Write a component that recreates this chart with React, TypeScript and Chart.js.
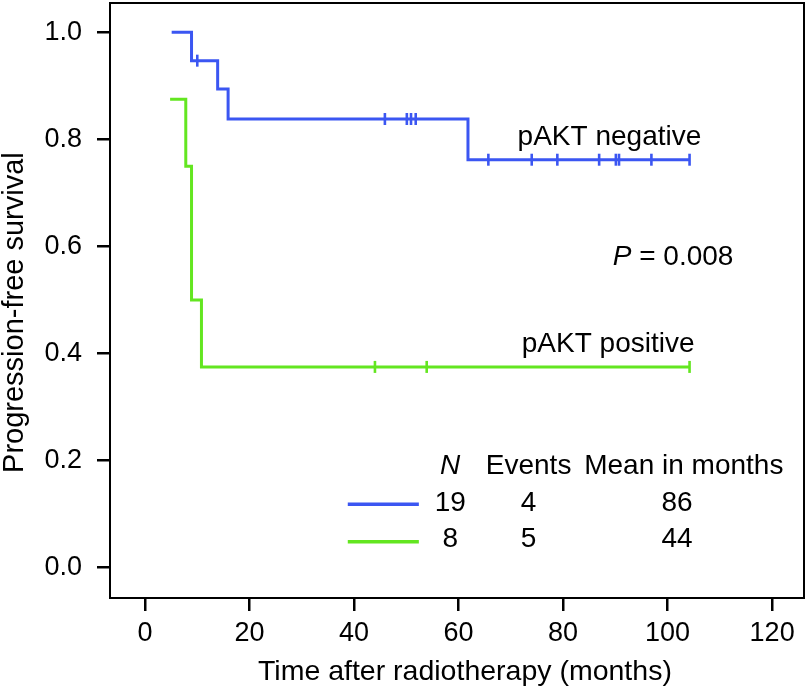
import React, { useEffect, useRef } from 'react';
import { Chart, registerables } from 'chart.js';

Chart.register(...registerables);

// ---- data ----
const negStepTimes = [5.1, 8.9, 13.9, 15.9, 61.8, 104.2];
const negSurvival = [1.0, 0.947, 0.894, 0.838, 0.762, 0.762];
const negCensorTimes = [10.0, 45.9, 50.1, 50.9, 51.8, 65.7, 74.0, 78.9, 86.9, 90.1, 90.7, 96.9, 104.2];

const posStepTimes = [4.8, 7.8, 8.9, 10.8, 104.2];
const posSurvival = [0.875, 0.75, 0.5, 0.375, 0.375];
const posCensorTimes = [44.0, 53.9, 104.2];

const xTickValues = [0, 20, 40, 60, 80, 100, 120];
const yTickValues = [0, 0.2, 0.4, 0.6, 0.8, 1.0];

const groupLabels = ['pAKT negative', 'pAKT positive'];
const tableHeaders = ['N', 'Events', 'Mean in months'];
const tableN = [19, 8];
const tableEvents = [4, 5];
const tableMean = [86, 44];
const pValue = '0.008';

const xTitle = 'Time after radiotherapy (months)';
const yTitle = 'Progression-free survival';

// ---- styles / layout ----
const BLUE = '#3b56f2';
const GREEN = '#63e620';
const FONT = '"Liberation Sans", Arial, Helvetica, sans-serif';
const FRAME = { left: 110, top: 3, right: 804, bottom: 598 };
const TEXT_SIZE = 28;
const TICK_SIZE = 27;

function survivalAt(times: number[], surv: number[], t: number): number {
  let v = surv[0];
  for (let i = 0; i < times.length; i++) {
    if (times[i] <= t) v = surv[i];
  }
  return v;
}

const toPoints = (xs: number[], ys: number[]) => xs.map((x, i) => ({ x, y: ys[i] }));
const censorPoints = (cs: number[], times: number[], surv: number[]) =>
  cs.map((t) => ({ x: t, y: survivalAt(times, surv, t) }));

const frameLayoutPlugin = {
  id: 'fixedFrame',
  afterLayout(chart: any) {
    const a = chart.chartArea;
    a.left = FRAME.left;
    a.top = FRAME.top;
    a.right = FRAME.right;
    a.bottom = FRAME.bottom;
    a.width = a.right - a.left;
    a.height = a.bottom - a.top;
    const x = chart.scales.x;
    const y = chart.scales.y;
    x.left = a.left;
    x.right = a.right;
    x.width = a.width;
    x.top = a.bottom;
    x.bottom = chart.height;
    x.height = x.bottom - x.top;
    y.top = a.top;
    y.bottom = a.bottom;
    y.height = a.height;
    y.left = 0;
    y.right = a.left;
    y.width = a.left;
    x.configure();
    y.configure();
  },
};

const boxPlugin = {
  id: 'frameBox',
  afterDraw(chart: any) {
    const { ctx, chartArea } = chart;
    ctx.save();
    ctx.strokeStyle = '#000';
    ctx.lineWidth = 2;
    ctx.strokeRect(chartArea.left, chartArea.top, chartArea.right - chartArea.left, chartArea.bottom - chartArea.top);
    ctx.restore();
  },
};

const annotationPlugin = {
  id: 'kmAnnotations',
  afterDatasetsDraw(chart: any) {
    const { ctx } = chart;
    const xs = chart.scales.x;
    const ys = chart.scales.y;
    const px = (v: number) => xs.getPixelForValue(v);
    const py = (v: number) => ys.getPixelForValue(v);
    const f = (style: string) => `${style} ${TEXT_SIZE}px ${FONT}`;
    ctx.save();
    ctx.fillStyle = '#000';
    ctx.textBaseline = 'alphabetic';

    // group labels
    ctx.font = f('normal');
    ctx.textAlign = 'left';
    ctx.fillText(groupLabels[0], px(71.3), py(0.7895));
    ctx.fillText(groupLabels[1], px(72.1), py(0.403));

    // P value
    let x0 = px(89.5);
    const y0 = py(0.565);
    ctx.font = f('italic');
    ctx.fillText('P', x0, y0);
    x0 += ctx.measureText('P').width;
    ctx.font = f('normal');
    ctx.fillText(' = ' + pValue, x0, y0);

    // table
    const colN = 58.4;
    const colEv = 73.4;
    const colMeanHead = 103.1;
    const colMean = 101.8;
    ctx.textAlign = 'center';
    ctx.font = f('italic');
    ctx.fillText(tableHeaders[0], px(colN), py(0.175));
    ctx.font = f('normal');
    ctx.fillText(tableHeaders[1], px(colEv), py(0.175));
    ctx.fillText(tableHeaders[2], px(colMeanHead), py(0.175));

    const rowY = [0.1065, 0.039];
    const lineY = [0.1184, 0.0486];
    const colors = [BLUE, GREEN];
    for (let i = 0; i < 2; i++) {
      ctx.strokeStyle = colors[i];
      ctx.lineWidth = 3.5;
      ctx.beginPath();
      ctx.moveTo(px(38.8), py(lineY[i]));
      ctx.lineTo(px(52.4), py(lineY[i]));
      ctx.stroke();
      ctx.fillText(String(tableN[i]), px(colN), py(rowY[i]));
      ctx.fillText(String(tableEvents[i]), px(colEv), py(rowY[i]));
      ctx.fillText(String(tableMean[i]), px(colMean), py(rowY[i]));
    }
    ctx.restore();
  },
};

export default function App() {
  const canvasRef = useRef<HTMLCanvasElement | null>(null);

  useEffect(() => {
    if (!canvasRef.current) return;
    Chart.defaults.font.family = FONT;
    Chart.defaults.color = '#000';

    const chart = new Chart(canvasRef.current, {
      type: 'line',
      data: {
        datasets: [
          {
            label: groupLabels[0],
            data: toPoints(negStepTimes, negSurvival),
            borderColor: BLUE,
            borderWidth: 3,
            stepped: 'before',
            pointRadius: 0,
            fill: false,
          },
          {
            label: groupLabels[1],
            data: toPoints(posStepTimes, posSurvival),
            borderColor: GREEN,
            borderWidth: 3,
            stepped: 'before',
            pointRadius: 0,
            fill: false,
          },
          {
            label: groupLabels[0] + ' censored',
            data: censorPoints(negCensorTimes, negStepTimes, negSurvival),
            showLine: false,
            pointStyle: 'line',
            pointRotation: 90,
            pointRadius: 6,
            pointBorderWidth: 2.6,
            pointBorderColor: BLUE,
            pointBackgroundColor: BLUE,
          },
          {
            label: groupLabels[1] + ' censored',
            data: censorPoints(posCensorTimes, posStepTimes, posSurvival),
            showLine: false,
            pointStyle: 'line',
            pointRotation: 90,
            pointRadius: 6,
            pointBorderWidth: 2.6,
            pointBorderColor: GREEN,
            pointBackgroundColor: GREEN,
          },
        ],
      },
      options: {
        responsive: false,
        animation: false,
        devicePixelRatio: 1,
        layout: { padding: { top: 3, right: 4, left: 0, bottom: 0 } },
        plugins: {
          legend: { display: false },
          tooltip: { enabled: false },
        },
        scales: {
          x: {
            type: 'linear',
            min: -6.7,
            max: 126.1,
            afterBuildTicks: (scale: any) => {
              scale.ticks = xTickValues.map((v) => ({ value: v }));
            },
            afterFit: (scale: any) => {
              scale.height = 88;
              scale.paddingLeft = 0;
              scale.paddingRight = 0;
              scale.paddingTop = 0;
              scale.paddingBottom = 0;
            },
            border: { display: false },
            grid: {
              display: true,
              drawOnChartArea: false,
              drawTicks: true,
              tickLength: 13,
              color: '#000',
              lineWidth: 2.5,
            },
            ticks: {
              font: { size: TICK_SIZE, family: FONT },
              color: '#000',
              padding: 6,
              maxRotation: 0,
              callback: (v: any) => String(v),
            },
            title: {
              display: true,
              text: '  ' + xTitle,
              color: '#000',
              font: { size: 28.5, family: FONT, lineHeight: 1 },
              padding: { top: 0, bottom: 0 },
            },
          },
          y: {
            type: 'linear',
            min: -0.0566,
            max: 1.0547,
            afterBuildTicks: (scale: any) => {
              scale.ticks = yTickValues.map((v) => ({ value: v }));
            },
            afterFit: (scale: any) => {
              scale.width = 110;
              scale.paddingLeft = 0;
              scale.paddingRight = 0;
              scale.paddingTop = 0;
              scale.paddingBottom = 0;
            },
            border: { display: false },
            grid: {
              display: true,
              drawOnChartArea: false,
              drawTicks: true,
              tickLength: 13,
              color: '#000',
              lineWidth: 2.5,
            },
            ticks: {
              font: { size: TICK_SIZE, family: FONT },
              color: '#000',
              padding: 15,
              callback: (v: any) => Number(v).toFixed(1),
            },
            title: {
              display: true,
              text: yTitle + '   ',
              color: '#000',
              font: { size: 29, family: FONT, lineHeight: 1 },
              padding: { top: 0.5, bottom: 0 },
            },
          },
        },
      },
      plugins: [frameLayoutPlugin, boxPlugin, annotationPlugin],
    } as any);

    return () => chart.destroy();
  }, []);

  return (
    <div style={{ position: 'absolute', left: 0, top: 0, width: 808, height: 686, background: '#fff' }}>
      <canvas ref={canvasRef} width={808} height={686} style={{ display: 'block' }} />
    </div>
  );
}
